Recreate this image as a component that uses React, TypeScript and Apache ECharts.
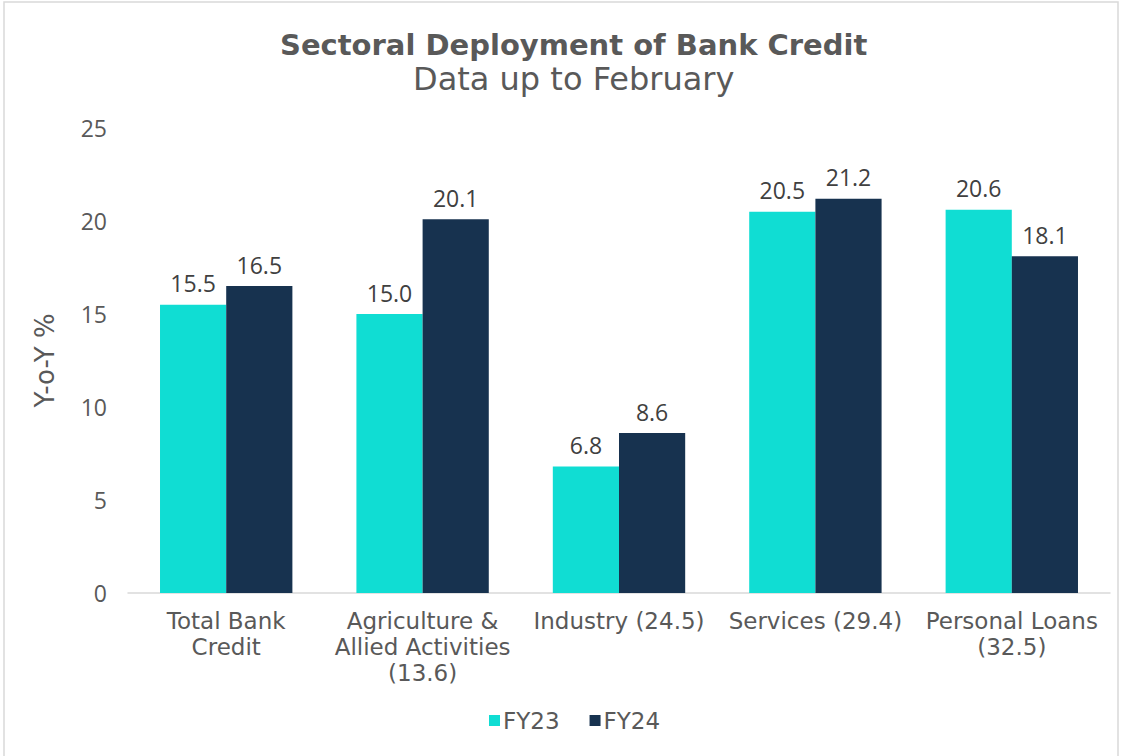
import React, { useEffect, useRef } from "react";
import * as echarts from "echarts";

const categories = [
  "Total Bank\nCredit",
  "Agriculture &\nAllied Activities\n(13.6)",
  "Industry (24.5)",
  "Services (29.4)",
  "Personal Loans\n(32.5)",
];
const fy23 = [15.5, 15.0, 6.8, 20.5, 20.6];
const fy24 = [16.5, 20.1, 8.6, 21.2, 18.1];
const seriesNames = ["FY23", "FY24"];
const colors = ["#10DDD3", "#17324F"];
const FONT = "'DejaVu Sans', sans-serif";
const NUMFONT = "'Open Sans', 'DejaVu Sans', sans-serif";

export default function App() {
  const ref = useRef<HTMLDivElement>(null);
  useEffect(() => {
    document.body.style.margin = "0";
    const chart = echarts.init(ref.current!, undefined, { renderer: "svg" });
    const label = {
      show: true,
      position: "top" as const,
      distance: 10,
      color: "#404040",
      fontSize: 23,
      fontFamily: NUMFONT,
      formatter: (p: any) => Number(p.value).toFixed(1),
    };
    chart.setOption({
      animation: false,
      backgroundColor: "#ffffff",
      textStyle: { fontFamily: FONT },
      graphic: [
        {
          type: "rect",
          shape: { x: 4, y: 2, width: 1114, height: 770 },
          style: { fill: "none", stroke: "#d9d9d9", lineWidth: 1.5 },
          silent: true,
        },
      ],
      title: [
        {
          text: "Sectoral Deployment of Bank Credit",
          left: 275,
          top: 25,
          textStyle: { fontSize: 29, fontWeight: "bold", color: "#595959", fontFamily: FONT },
        },
        {
          text: "Data up to February",
          left: 408,
          top: 58,
          textStyle: { fontSize: 32, fontWeight: "normal", color: "#595959", fontFamily: FONT },
        },
      ],
      legend: {
        data: seriesNames,
        bottom: 19,
        left: 484,
        itemWidth: 11,
        itemHeight: 11,
        itemGap: 30,
        icon: "rect",
        textStyle: { fontSize: 23, color: "#595959", fontFamily: FONT, padding: [0, 0, 0, -2] },
      },
      grid: { left: 128, right: 17, top: 128, bottom: 163 },
      xAxis: {
        type: "category",
        data: categories,
        axisLine: { lineStyle: { color: "#d9d9d9", width: 1.5 } },
        axisTick: { show: false },
        axisLabel: {
          interval: 0,
          fontSize: 23,
          lineHeight: 26,
          color: "#595959",
          margin: 15,
          fontFamily: FONT,
        },
      },
      yAxis: {
        type: "value",
        min: 0,
        max: 25,
        interval: 5,
        name: "Y-o-Y %",
        nameLocation: "middle",
        nameGap: 70,
        nameRotate: 90,
        nameTextStyle: { fontSize: 26, color: "#595959", fontFamily: FONT },
        splitLine: { show: false },
        axisLine: { show: false },
        axisTick: { show: false },
        axisLabel: { fontSize: 23, color: "#595959", margin: 21, fontFamily: NUMFONT },
      },
      series: [
        {
          name: seriesNames[0],
          type: "bar",
          data: fy23,
          itemStyle: { color: colors[0] },
          barGap: "0%",
          barCategoryGap: "32.6%",
          label,
        },
        {
          name: seriesNames[1],
          type: "bar",
          data: fy24,
          itemStyle: { color: colors[1] },
          barGap: "0%",
          barCategoryGap: "32.6%",
          label,
        },
      ],
    });
    return () => chart.dispose();
  }, []);
  return (
    <div
      ref={ref}
      style={{ position: "absolute", left: 0, top: 0, width: 1127, height: 756 }}
    />
  );
}
